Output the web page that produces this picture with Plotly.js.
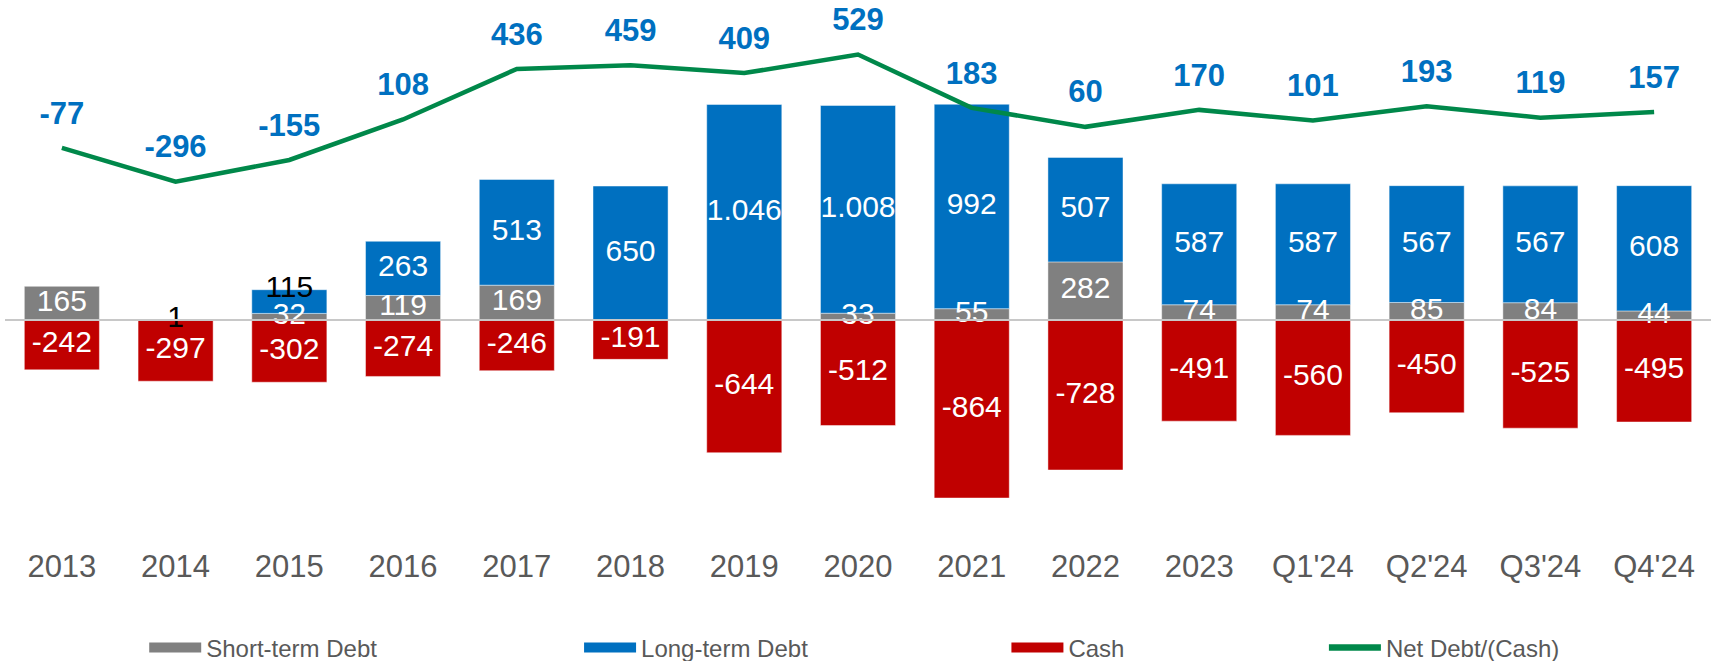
<!DOCTYPE html>
<html>
<head>
<meta charset="utf-8">
<script src="https://cdn.plot.ly/plotly-3.0.1.min.js"></script>
<style>html,body{margin:0;padding:0;background:#fff;}#chart{width:1711px;height:661px;}</style>
</head>
<body>
<div id="chart"></div>
<script>
const categories = ["2013","2014","2015","2016","2017","2018","2019","2020","2021","2022","2023","Q1'24","Q2'24","Q3'24","Q4'24"];
const shortTermDebt = [165, 1, 32, 119, 169, 0, 0, 33, 55, 282, 74, 74, 85, 84, 44];
const longTermDebt = [0, 0, 115, 263, 513, 650, 1046, 1008, 992, 507, 587, 587, 567, 567, 608];
const cash = [-242, -297, -302, -274, -246, -191, -644, -512, -864, -728, -491, -560, -450, -525, -495];
const netDebt = [-77, -296, -155, 108, 436, 459, 409, 529, 183, 60, 170, 101, 193, 119, 157];

// labels drawn in black instead of white
const blackLabelST = [false, true, false, false, false, false, false, false, false, false, false, false, false, false, false];
const blackLabelLT = [false, false, true, false, false, false, false, false, false, false, false, false, false, false, false];

function fmt(v) {
  const s = Math.abs(v).toString().replace(/\B(?=(\d{3})+(?!\d))/g, '.');
  return (v < 0 ? '-' : '') + s;
}

const FONT = 'Liberation Sans, Arial, sans-serif';
const BLUE = '#0070C0', RED = '#C00000', GRAY = '#808080', GREEN = '#00884A';
const edge = {color: 'rgba(255,255,255,0.45)', width: 1};

// label positions derived from the data
const stY = shortTermDebt.map(v => v === 0 ? null : v / 2);
const stText = shortTermDebt.map(v => v === 0 ? '' : fmt(v));
const stColor = blackLabelST.map(b => b ? '#000000' : '#ffffff');
const ltY = longTermDebt.map((v, i) => v === 0 ? null : (blackLabelLT[i] ? shortTermDebt[i] + v : shortTermDebt[i] + v / 2));
const ltText = longTermDebt.map(v => v === 0 ? '' : fmt(v));
const ltColor = blackLabelLT.map(b => b ? '#000000' : '#ffffff');
const cashY = cash.map(v => v / 2);
const cashText = cash.map(v => fmt(v));

const barCommon = {type: 'bar', width: 0.66, showlegend: false, hoverinfo: 'skip'};
const labelCommon = {type: 'scatter', mode: 'text', textposition: 'middle center', showlegend: false, hoverinfo: 'skip', cliponaxis: false};

const traces = [
  Object.assign({}, barCommon, {x: categories, y: shortTermDebt, marker: {color: GRAY, line: edge}}),
  Object.assign({}, barCommon, {x: categories, y: longTermDebt, marker: {color: BLUE, line: edge}}),
  Object.assign({}, barCommon, {x: categories, y: cash, marker: {color: RED, line: edge}}),
  Object.assign({}, labelCommon, {x: categories, y: stY, text: stText, textfont: {family: FONT, size: 30, color: stColor}}),
  Object.assign({}, labelCommon, {x: categories, y: ltY, text: ltText, textfont: {family: FONT, size: 30, color: ltColor}}),
  Object.assign({}, labelCommon, {x: categories, y: cashY, text: cashText, textfont: {family: FONT, size: 30, color: '#ffffff'}}),
  {type: 'scatter', x: categories, y: netDebt, yaxis: 'y2', mode: 'lines+markers+text',
   line: {color: GREEN, width: 4.5}, marker: {size: 25, color: 'rgba(0,0,0,0)'},
   text: netDebt.map(v => fmt(v)), textposition: 'top center',
   textfont: {family: FONT, size: 31, color: BLUE, weight: 'bold'}, showlegend: false, hoverinfo: 'skip', cliponaxis: false},
  // legend entries
  {type: 'scatter', x: [null], y: [null], mode: 'lines', line: {color: GRAY, width: 12}, name: 'Short-term Debt', legend: 'legend'},
  {type: 'scatter', x: [null], y: [null], mode: 'lines', line: {color: BLUE, width: 12}, name: 'Long-term Debt', legend: 'legend2'},
  {type: 'scatter', x: [null], y: [null], mode: 'lines', line: {color: RED, width: 12}, name: 'Cash', legend: 'legend3'},
  {type: 'scatter', x: [null], y: [null], mode: 'lines', line: {color: GREEN, width: 6.5}, name: 'Net Debt/(Cash)', legend: 'legend4'}
];

function legendAt(x) {
  return {orientation: 'h', x: x, xanchor: 'left', y: -0.189, yanchor: 'middle', bgcolor: 'rgba(0,0,0,0)',
          font: {family: FONT, size: 24, color: '#595959'}, itemwidth: 52, traceorder: 'normal'};
}

const layout = {
  width: 1711, height: 661,
  margin: {l: 5, r: 0, t: 0, b: 116, autoexpand: false},
  paper_bgcolor: '#fff', plot_bgcolor: '#fff',
  barmode: 'relative', bargap: 0.34,
  font: {family: FONT},
  xaxis: {type: 'category', showgrid: false, zeroline: false, showline: false, ticks: '',
          tickfont: {family: FONT, size: 31, color: '#595959'}, range: [-0.5, 14.5]},
  yaxis: {range: [-1092, 1553], showgrid: false, zeroline: false, showticklabels: false, ticks: ''},
  yaxis2: {range: [-2653, 883], overlaying: 'y', showgrid: false, zeroline: false, showticklabels: false, ticks: ''},
  shapes: [{type: 'line', xref: 'paper', x0: 0, x1: 1, yref: 'y', y0: 0, y1: 0, line: {color: '#C8C8C8', width: 2}, layer: 'above'}],
  legend: legendAt(0.0816),
  legend2: legendAt(0.3365),
  legend3: legendAt(0.587),
  legend4: legendAt(0.7731)
};

Plotly.newPlot('chart', traces, layout, {displayModeBar: false, staticPlot: true});
</script>
</body>
</html>
